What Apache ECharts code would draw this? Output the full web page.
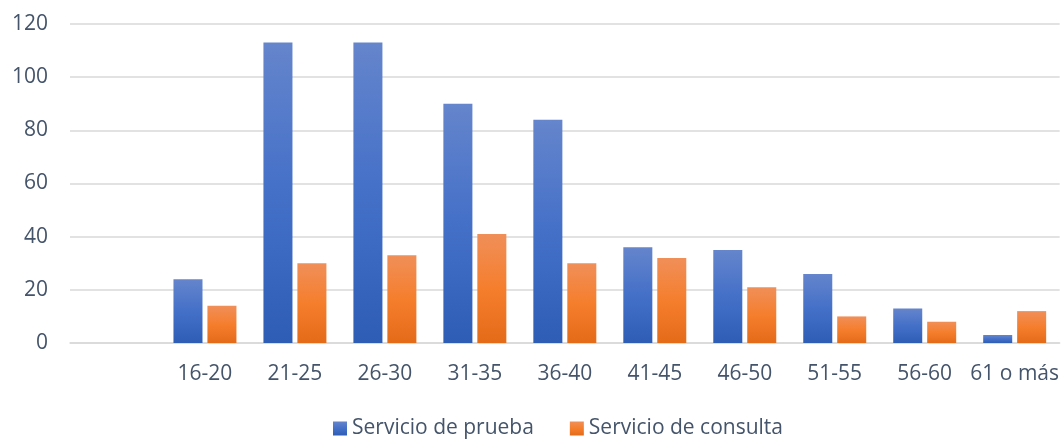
<!DOCTYPE html>
<html>
<head>
<meta charset="utf-8">
<script src="https://cdn.jsdelivr.net/npm/echarts@6/dist/echarts.min.js"></script>
<style>
  html, body { margin: 0; padding: 0; background: #fff; }
  #chart { width: 1062px; height: 444px; }
</style>
</head>
<body>
<div id="chart"></div>
<script>
// datos del gráfico (la primera categoría va vacía, como en el original)
const categorias = ['', '16-20', '21-25', '26-30', '31-35', '36-40', '41-45', '46-50', '51-55', '56-60', '61 o más'];
const servicioPrueba = [null, 24, 113, 113, 90, 84, 36, 35, 26, 13, 3];
const servicioConsulta = [null, 14, 30, 33, 41, 30, 32, 21, 10, 8, 12];
const nombres = ['Servicio de prueba', 'Servicio de consulta'];

const textColor = '#44546a';
const gridColor = '#d9d9d9';

function gradiente(top, mid, bottom) {
  return new echarts.graphic.LinearGradient(0, 0, 0, 1, [
    { offset: 0, color: top },
    { offset: 0.5, color: mid },
    { offset: 1, color: bottom }
  ]);
}

const option = {
  animation: false,
  textStyle: { fontFamily: 'Open Sans' },
  legend: {
    bottom: 0,
    left: 328,
    itemWidth: 14,
    itemHeight: 14,
    itemGap: 36,
    icon: 'rect',
    textStyle: { color: textColor, fontSize: 21, fontFamily: 'Open Sans' },
    data: nombres
  },
  grid: {
    left: 70,
    right: 2,
    top: 24,
    bottom: 101
  },
  xAxis: {
    type: 'category',
    data: categorias,
    axisTick: { show: false },
    axisLine: { lineStyle: { color: gridColor, width: 1.5 } },
    axisLabel: { color: textColor, fontSize: 21, margin: 21, interval: 0 }
  },
  yAxis: {
    type: 'value',
    min: 0,
    max: 120,
    interval: 20,
    axisLine: { show: false },
    axisTick: { show: false },
    axisLabel: { color: textColor, fontSize: 21, margin: 22 },
    splitLine: { lineStyle: { color: gridColor, width: 1.5 } }
  },
  series: [
    {
      name: nombres[0],
      type: 'bar',
      data: servicioPrueba,
      barGap: '17%',
      barCategoryGap: '30%',
      itemStyle: { color: gradiente('#6585cc', '#4470c8', '#2e5db6') }
    },
    {
      name: nombres[1],
      type: 'bar',
      data: servicioConsulta,
      itemStyle: { color: gradiente('#f08f59', '#f57e2d', '#e46b18') }
    }
  ]
};

const chart = echarts.init(document.getElementById('chart'));
chart.setOption(option);
</script>
</body>
</html>
